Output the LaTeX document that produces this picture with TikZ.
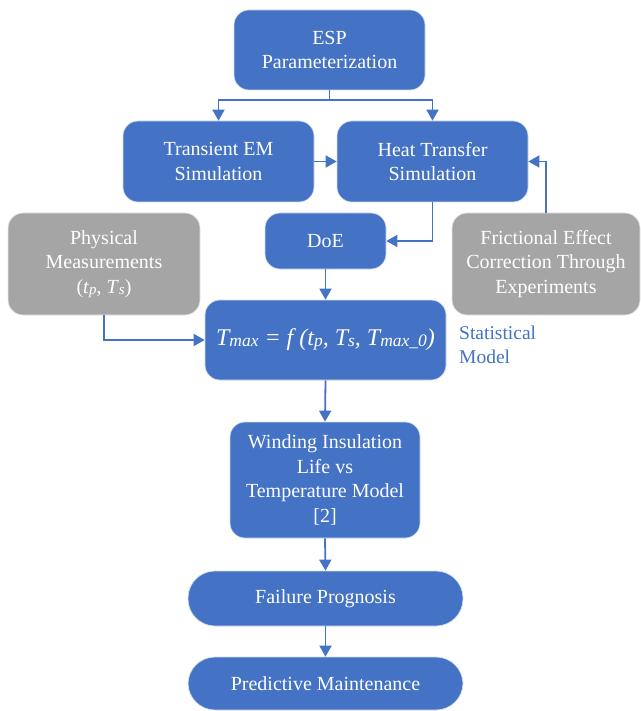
\documentclass[tikz,border=0pt]{standalone}
\usepackage{fontspec}
\setmainfont{Liberation Serif}
\newfontfamily\tnr{Liberation Serif}
\usetikzlibrary{arrows.meta,calc}
\definecolor{boxblue}{HTML}{4472C4}
\definecolor{boxgrey}{HTML}{A5A5A5}
\tikzset{
  x=1pt, y=1pt,
  base/.style={rounded corners=15pt, draw=white!75!boxblue, line width=0.7pt, text=white,
    align=center, inner sep=0pt, font=\tnr\fontsize{20}{24.5}\selectfont},
  bluebox/.style={base, fill=boxblue},
  greybox/.style={base, fill=boxgrey, draw=white!75!boxgrey},
  pill/.style={base, fill=boxblue, rounded corners=27pt},
  conn/.style={draw=boxblue, line width=1.8pt, -{Triangle[length=11pt,width=12pt]}},
  plainline/.style={draw=boxblue, line width=1.8pt},
}
\newcommand{\sbs}[1]{\raisebox{-1.5pt}{\fontsize{15}{15}\selectfont #1}}
\newcommand{\sbb}[1]{\raisebox{-1pt}{\fontsize{17.5}{17.5}\selectfont #1}}
\begin{document}
\begin{tikzpicture}
\useasboundingbox (0,0) rectangle (640,-711);
\node[bluebox, minimum width=191, minimum height=80] (esp) at (329.5,-50) {ESP\\Parameterization};
\node[bluebox, minimum width=191, minimum height=81] (tem) at (218.5,-161.5) {Transient EM\\Simulation};
\node[bluebox, minimum width=191, minimum height=81] (hts) at (432.5,-161.5) {Heat Transfer\\Simulation};
\node[greybox, minimum width=192, minimum height=102] (phys) at (104,-264) {Physical\\Measurements\\(\textit{t}\sbs{\textit{p}}, \textit{T}\sbs{\textit{s}})};
\node[bluebox, minimum width=121, minimum height=56] (doe) at (325.5,-241) {DoE};
\node[greybox, minimum width=188, minimum height=102] (fric) at (546,-264) {Frictional Effect\\Correction Through\\Experiments};
\node[bluebox, minimum width=241, minimum height=80, font=\tnr\fontsize{24}{28}\selectfont\itshape] (tmax) at (325.5,-340)
  {T\sbb{max} = f (t\sbb{p}, T\sbb{s}, T\sbb{max\_0})};
\node[anchor=west, align=left, text=boxblue, inner sep=0pt, font=\tnr\fontsize{19.5}{23.5}\selectfont] (stat) at (459,-345) {Statistical\\Model};
\node[bluebox, minimum width=190, minimum height=116] (wind) at (325,-480) {Winding Insulation\\Life vs\\Temperature Model\\{[2]}};
\node[pill, minimum width=275, minimum height=55] (fail) at (325.5,-598.5) {Failure Prognosis};
\node[pill, minimum width=275, minimum height=53] (pred) at (325.5,-683.5) {Predictive Maintenance};

\coordinate (split) at ($(esp.south)+(0,-10)$);
\draw[plainline] (esp.south) -- (split);
\draw[conn] (split) -| (tem.north);
\draw[conn] (split) -| (hts.north);
\draw[conn] (tem.east) -- (hts.west);
\draw[conn] (hts.south) |- (doe.east);
\draw[conn] (doe.south) -- (tmax.north);
\draw[conn] (phys.south) |- (tmax.west);
\draw[conn] (fric.north) |- (hts.east);
\draw[conn] (tmax.south) -- (wind.north);
\draw[conn] (wind.south) -- (fail.north);
\draw[conn] (fail.south) -- (pred.north);
\end{tikzpicture}
\end{document}
